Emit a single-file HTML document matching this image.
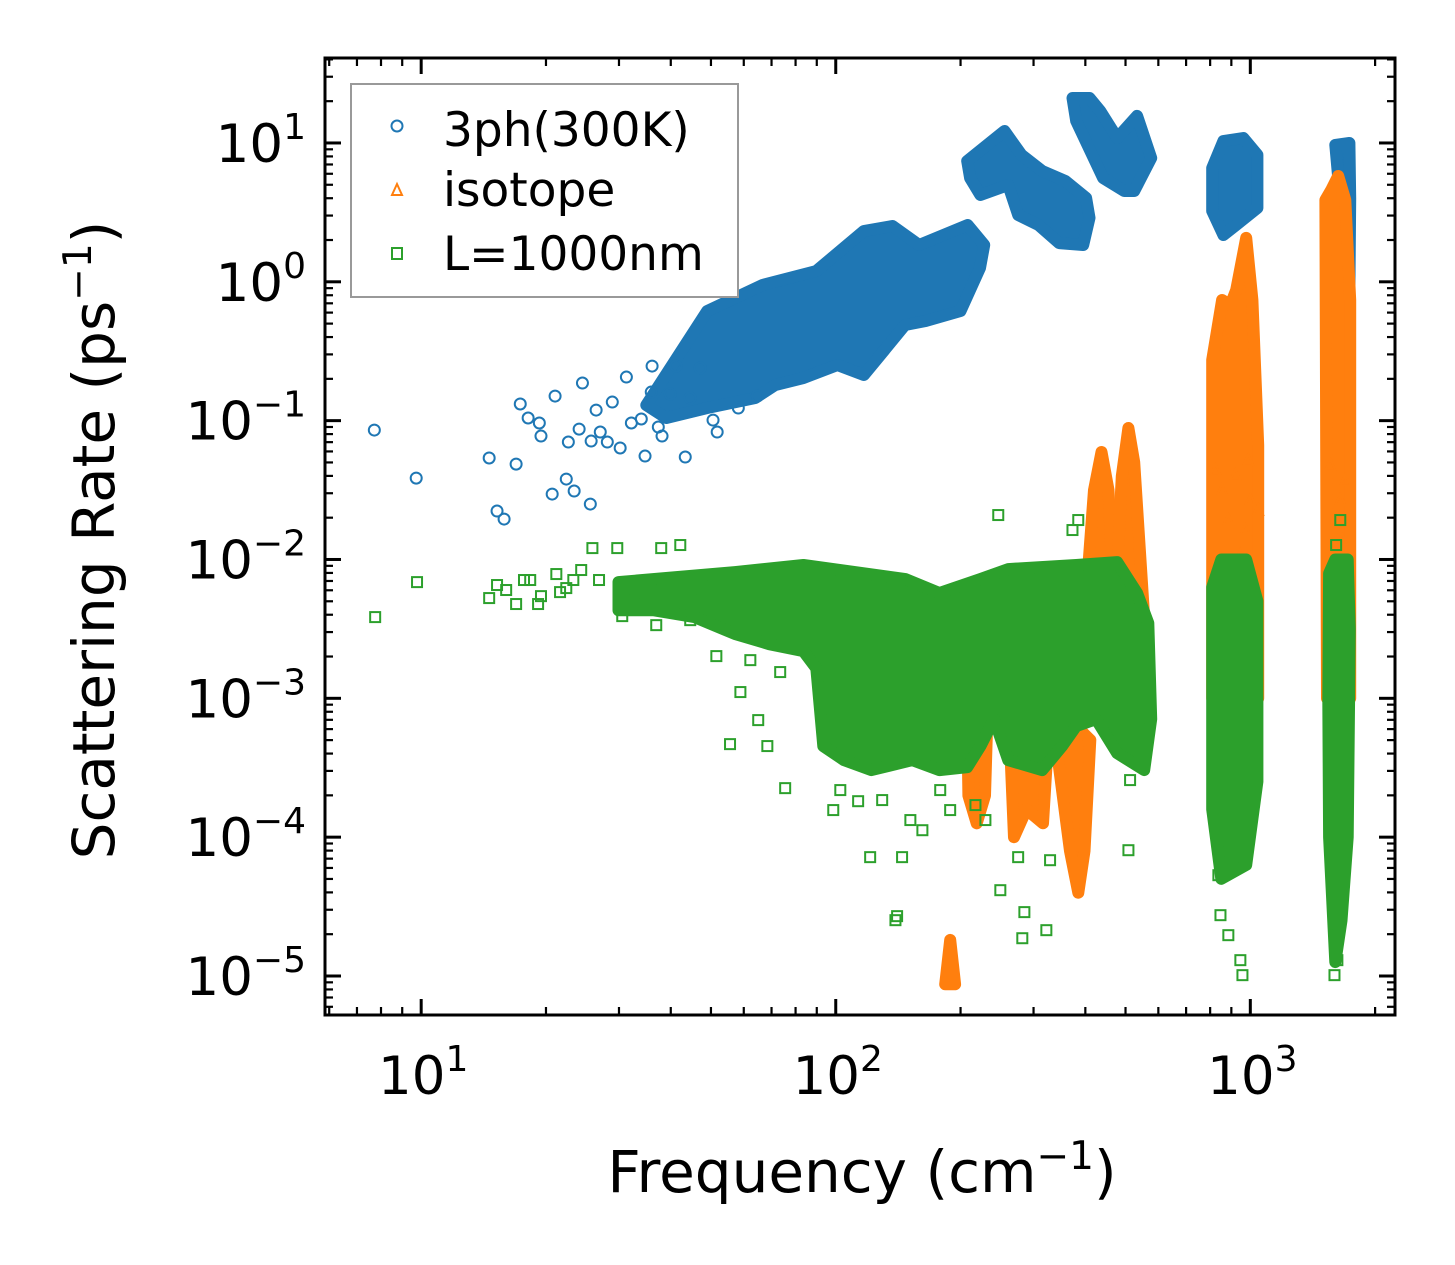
<!DOCTYPE html>
<html><head><meta charset="utf-8"><style>
html,body{margin:0;padding:0;background:#fff;}
svg{display:block;font-family:"DejaVu Sans","Liberation Sans",sans-serif;}
</style></head><body>
<svg id="chart" width="1455" height="1265" viewBox="0 0 1455 1265" xmlns="http://www.w3.org/2000/svg">
<defs><clipPath id="plotClip"><rect x="325" y="58" width="1070" height="957"/></clipPath></defs>
<rect x="0" y="0" width="1455" height="1265" fill="#fff"/>
<g id="marks" clip-path="url(#plotClip)"></g>
<g id="axes"></g>
<text x="862" y="1192" font-size="58" text-anchor="middle">Frequency (cm<tspan font-size="39" dy="-23">−1</tspan><tspan dy="23">)</tspan></text>
<text transform="translate(114,540) rotate(-90)" font-size="58" text-anchor="middle">Scattering Rate (ps<tspan font-size="39" dy="-23">−1</tspan><tspan dy="23">)</tspan></text>
<g>
<rect x="351" y="84" width="387" height="213" fill="#fff" stroke="#999" stroke-width="2"/>
<circle cx="397" cy="126" r="5.5" fill="none" stroke="#1f77b4" stroke-width="2"/>
<text x="443" y="146" font-size="47">3ph(300K)</text>
<polygon points="397,184 402,195 392,195" fill="none" stroke="#ff7f0e" stroke-width="2"/>
<text x="443" y="206" font-size="47">isotope</text>
<rect x="392" y="248" width="10" height="11" fill="none" stroke="#2ca02c" stroke-width="2"/>
<text x="443" y="270" font-size="47">L=1000nm</text>
</g>
<script>
// ---- data (log10 frequency in cm^-1, log10 scattering rate in ps^-1) ----
const xTickExps = [1, 2, 3];
const yTickExps = [1, 0, -1, -2, -3, -4, -5];
const blueMainLogF = [1.543,1.690,1.823,1.953,2.068,2.137,2.201,2.318,2.358,2.348,2.301,2.217,2.167,2.068,2.004,1.922,1.854,1.806,1.690,1.591];
const blueMainLogR = [-0.888,-0.210,-0.023,0.078,0.366,0.402,0.265,0.409,0.265,0.100,-0.210,-0.282,-0.311,-0.671,-0.599,-0.693,-0.743,-0.837,-0.909,-0.981];
const blueC2LogF = [2.317,2.407,2.448,2.498,2.554,2.604,2.612,2.597,2.539,2.489,2.440,2.416,2.349,2.324];
const blueC2LogR = [0.870,1.086,0.914,0.798,0.726,0.604,0.460,0.265,0.279,0.409,0.481,0.697,0.625,0.748];
const blueC3LogF = [2.571,2.612,2.638,2.679,2.727,2.761,2.720,2.696,2.645,2.580];
const blueC3LogR = [1.324,1.324,1.231,1.036,1.195,0.892,0.654,0.654,0.748,1.158];
const blueC4LogF = [2.908,2.935,2.983,3.017,3.017,2.966,2.935,2.908];
const blueC4LogR = [0.820,1.014,1.036,0.914,0.532,0.409,0.337,0.510];
const blueC5LogF = [3.205,3.239,3.241,3.239,3.222,3.215,3.198,3.188,3.198,3.215];
const blueC5LogR = [0.986,1.000,0.600,-0.066,-0.787,-1.147,-0.931,-0.549,0.171,0.654];
const blueSparseLogF = [0.887,0.988,1.164,1.183,1.200,1.229,1.239,1.258,1.285,1.289,1.316,1.323,1.350,1.355,1.369,1.381,1.389,1.408,1.410,1.422,1.432,1.449,1.461,1.480,1.495,1.507,1.531,1.540,1.555,1.557,1.572,1.581,1.601,1.615,1.637,1.649,1.673,1.704,1.714,1.765,1.811];
const blueSparseLogR = [-1.068,-1.414,-1.269,-1.651,-1.709,-1.313,-0.880,-0.981,-1.017,-1.111,-1.529,-0.823,-1.421,-1.154,-1.507,-1.061,-0.729,-1.601,-1.147,-0.924,-1.082,-1.154,-0.866,-1.197,-0.686,-1.017,-0.988,-1.255,-0.794,-0.607,-1.046,-1.111,-0.808,-0.607,-1.262,-0.837,-0.621,-0.996,-1.082,-0.909,-0.823];
const orangeClusters = [
  {f:[2.598,2.623,2.641,2.658,2.674], r:[-2.5,-1.5,-1.226,-1.5,-2.5]},
  {f:[2.672,2.690,2.706,2.720,2.748], r:[-2.5,-1.4,-1.053,-1.3,-2.6]},
  {f:[2.908,2.932,2.952,2.966,2.990,3.005,3.019,3.019,2.908], r:[-0.563,-0.131,-0.167,-0.059,0.316,-0.131,-1.176,-3.0,-3.0]},
  {f:[3.181,3.195,3.212,3.229,3.241,3.241,3.185], r:[0.589,0.661,0.762,0.589,-0.131,-3.0,-3.0]},
  {f:[2.317,2.340,2.366,2.360,2.340,2.320], r:[-3.1,-2.95,-3.1,-3.7,-3.9,-3.7]},
  {f:[2.264,2.276,2.288], r:[-5.06,-4.74,-5.06]},
  {f:[2.420,2.460,2.510,2.500,2.460,2.430], r:[-3.3,-3.2,-3.4,-3.9,-3.8,-4.0]},
  {f:[2.530,2.580,2.614,2.600,2.585,2.565], r:[-3.3,-3.2,-3.3,-4.1,-4.4,-4.1]}
];
const orangeSparseLogF = [2.916,2.932,2.964,2.995,3.000,2.947,2.988,2.976,3.019,3.193,3.229,3.217,3.205,3.222];
const orangeSparseLogR = [-1.356,-1.500,-1.392,-1.284,-1.572,-1.716,-1.788,-1.968,-1.644,-1.320,-1.428,-1.572,-1.716,-1.860];
const greenMainLogF = [1.476,1.757,1.922,2.168,2.250,2.349,2.416,2.580,2.679,2.727,2.754,2.761,2.744,2.679,2.628,2.580,2.546,2.498,2.416,2.382,2.349,2.317,2.250,2.185,2.086,2.020,1.970,1.953,1.922,1.840,1.757,1.659,1.560,1.476];
const greenMainLogR = [-2.163,-2.091,-2.040,-2.141,-2.242,-2.141,-2.069,-2.040,-2.019,-2.242,-2.458,-3.150,-3.517,-3.395,-3.150,-3.200,-3.344,-3.517,-3.445,-3.150,-3.344,-3.496,-3.517,-3.445,-3.517,-3.445,-3.344,-2.783,-2.660,-2.610,-2.537,-2.415,-2.365,-2.365];
const greenC2LogF = [2.908,2.930,2.990,3.017,3.017,2.990,2.930,2.908];
const greenC2LogR = [-2.2,-2.0,-2.0,-2.3,-3.6,-4.2,-4.3,-3.8];
const greenC3LogF = [3.190,3.205,3.235,3.240,3.235,3.220,3.205,3.190,3.188];
const greenC3LogR = [-2.1,-2.0,-2.0,-2.5,-4.0,-4.6,-4.9,-4.0,-3.0];
const greenSparseLogF = [0.889,0.990,1.164,1.183,1.205,1.229,1.248,1.263,1.282,1.289,1.326,1.335,1.350,1.367,1.386,1.413,1.429,1.473,1.485,1.511,1.540,1.552,1.567,1.579,1.625,1.649,1.673,1.712,1.745,1.770,1.794,1.813,1.835,1.866,1.878,1.938,1.994,2.011,2.054,2.083,2.112,2.144,2.148,2.160,2.180,2.209,2.252,2.276,2.337,2.392,2.397,2.440,2.450,2.455,2.508,2.517,2.571,2.710,2.706,2.585,2.361,2.923,2.928,2.947,2.976,2.981,2.940,3.212,3.210,3.203,3.217,3.207];
const greenSparseLogR = [-2.415,-2.163,-2.278,-2.184,-2.220,-2.321,-2.148,-2.148,-2.321,-2.264,-2.105,-2.235,-2.206,-2.148,-2.076,-1.918,-2.148,-1.918,-2.408,-2.278,-2.321,-2.148,-2.473,-1.918,-1.896,-2.437,-2.278,-2.696,-3.330,-2.955,-2.725,-3.157,-3.344,-2.811,-3.647,-2.408,-3.805,-3.661,-3.741,-4.144,-3.733,-4.598,-4.569,-4.144,-3.877,-3.950,-3.661,-3.805,-3.769,-1.680,-4.382,-4.144,-4.728,-4.540,-4.670,-4.166,-1.788,-3.589,-4.094,-1.716,-3.877,-4.274,-4.562,-4.706,-4.886,-4.994,-4.094,-4.706,-4.886,-4.994,-1.716,-1.896];

const X0 = 325, X1 = 1395, Y0 = 58, Y1 = 1015;
const xLogMin = 0.768, xLogMax = 3.349, yLogMin = -5.281, yLogMax = 1.612;
function sx(lf){ return X0 + (lf - xLogMin) / (xLogMax - xLogMin) * (X1 - X0); }
function sy(lr){ return Y1 - (lr - yLogMin) / (yLogMax - yLogMin) * (Y1 - Y0); }
const NS = 'http://www.w3.org/2000/svg';
const marks = document.getElementById('marks');
const axes = document.getElementById('axes');
function mk(tag, attrs, parent){ const e = document.createElementNS(NS, tag); for (const k in attrs) e.setAttribute(k, attrs[k]); parent.appendChild(e); return e; }
function poly(fs, rs, color, name){
  const pts = fs.map((f,i)=> sx(f).toFixed(1)+','+sy(rs[i]).toFixed(1)).join(' ');
  const p = mk('polygon', {points: pts, fill: color, stroke: color, 'stroke-width': 12, 'stroke-linejoin': 'round'}, marks);
  
  
}
poly(blueMainLogF, blueMainLogR, '#1f77b4', '3ph-cluster-acoustic');
poly(blueC2LogF, blueC2LogR, '#1f77b4', '3ph-cluster-2');
poly(blueC3LogF, blueC3LogR, '#1f77b4', '3ph-cluster-3');
poly(blueC4LogF, blueC4LogR, '#1f77b4', '3ph-cluster-4');
poly(blueC5LogF, blueC5LogR, '#1f77b4', '3ph-cluster-5');
blueSparseLogF.forEach((f,i)=>{
  const c = mk('circle', {cx: sx(f), cy: sy(blueSparseLogR[i]), r: 5.5, fill: 'none', stroke: '#1f77b4', 'stroke-width': 2}, marks);
  
  
});
orangeClusters.forEach((c,i)=> poly(c.f, c.r, '#ff7f0e', 'isotope-cluster'));
orangeSparseLogF.forEach((f,i)=>{
  const x = sx(f), y = sy(orangeSparseLogR[i]);
  const t = mk('polygon', {points: `${x},${y-6} ${x+5},${y+5} ${x-5},${y+5}`, fill: 'none', stroke: '#ff7f0e', 'stroke-width': 2}, marks);
  
  
});
poly(greenMainLogF, greenMainLogR, '#2ca02c', 'boundary-cluster-main');
poly(greenC2LogF, greenC2LogR, '#2ca02c', 'boundary-cluster-1000');
poly(greenC3LogF, greenC3LogR, '#2ca02c', 'boundary-cluster-1650');
greenSparseLogF.forEach((f,i)=>{
  const s = mk('rect', {x: sx(f)-5, y: sy(greenSparseLogR[i])-5, width: 10, height: 10, fill: 'none', stroke: '#2ca02c', 'stroke-width': 2}, marks);
  
  
});

const frame = mk('rect', {x: X0, y: Y0, width: X1-X0, height: Y1-Y0, fill: 'none', stroke: '#000', 'stroke-width': 3}, axes);


function tick(x1,y1,x2,y2,w){ mk('line', {x1,y1,x2,y2, stroke:'#000', 'stroke-width': w}, axes); }
function label(x, y, anchor, expStr, name){
  const t = mk('text', {x: x, y: y, 'font-size': 53, 'text-anchor': anchor}, axes);
  
  
  t.appendChild(document.createTextNode('10'));
  const sp = mk('tspan', {'font-size': 36, dy: -23}, t);
  sp.textContent = expStr;
}
for (let d = 0; d <= 3; d++){
  for (let m = 1; m <= 9; m++){
    const lf = d + Math.log10(m);
    if (lf < xLogMin || lf > xLogMax) continue;
    const x = sx(lf), L = m === 1 ? 16 : 8, w = m === 1 ? 3 : 2.2;
    tick(x, Y1, x, Y1-L, w); tick(x, Y0, x, Y0+L, w);
  }
}
xTickExps.forEach(e=> label(sx(e)+2, 1094, 'middle', String(e), 'x-tick-label'));
for (let d = -6; d <= 1; d++){
  for (let m = 1; m <= 9; m++){
    const lr = d + Math.log10(m);
    if (lr < yLogMin || lr > yLogMax) continue;
    const y = sy(lr), L = m === 1 ? 16 : 8, w = m === 1 ? 3 : 2.2;
    tick(X0, y, X0+L, y, w); tick(X1, y, X1-L, y, w);
  }
}
yTickExps.forEach(e=> label(306, sy(e)+19, 'end', e < 0 ? '−' + (-e) : String(e), 'y-tick-label'));
</script>
</svg>
</body></html>
